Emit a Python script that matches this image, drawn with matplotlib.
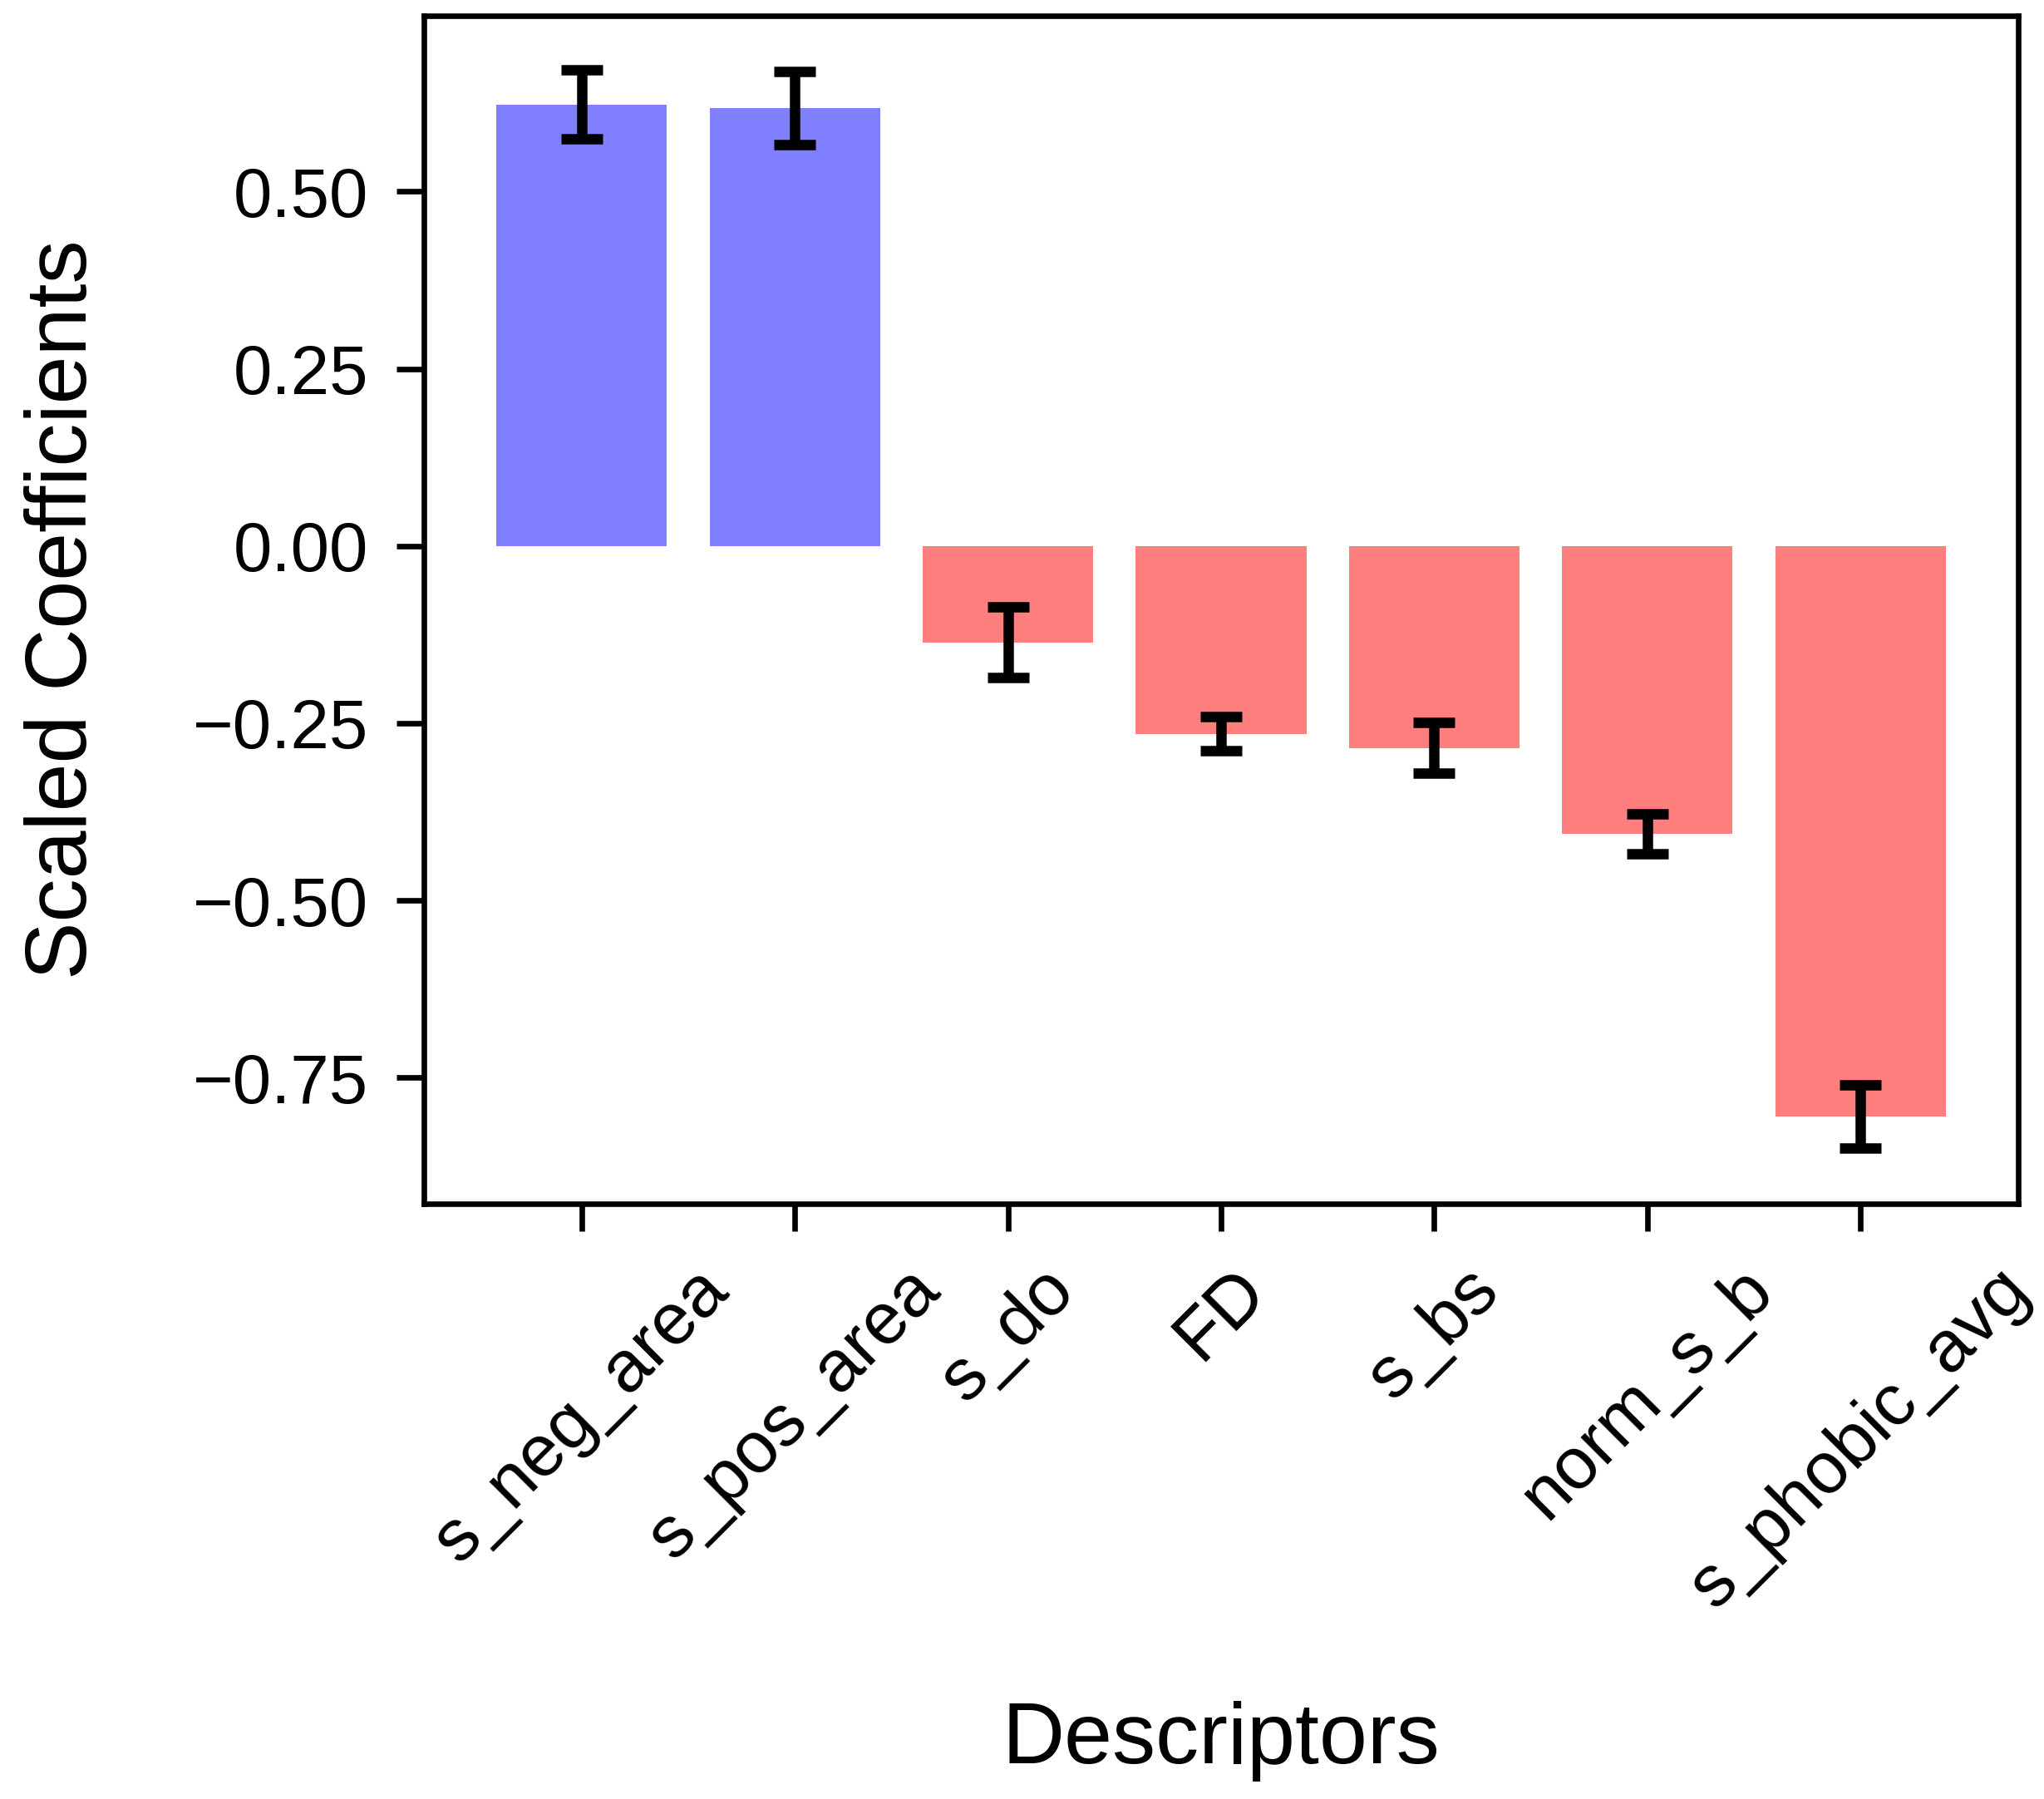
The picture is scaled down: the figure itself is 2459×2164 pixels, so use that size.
import numpy as np
import matplotlib as mpl
mpl.use('Agg')
import matplotlib.pyplot as plt

plt.rcParams['font.family'] = ['Liberation Sans', 'DejaVu Sans']

# descriptor coefficients (scaled) with their spread
descriptors = ['s_neg_area', 's_pos_area', 's_do', 'FD', 's_bs', 'norm_s_b', 's_phobic_avg']
coefs = [0.623, 0.618, -0.136, -0.265, -0.285, -0.406, -0.805]
errs  = [0.049, 0.052, 0.050, 0.024, 0.036, 0.028, 0.045]

def plot_coefs(names, values, errors):
	x = np.arange(len(names))
	colors = ['blue' if v > 0 else 'red' for v in values]

	fig = plt.figure(figsize=(2459/300, 2164/300), dpi=300)
	ax = fig.add_axes([0.2074, 0.3309, 0.78, 0.6603])

	ax.bar(x, values, width=0.8, color=colors, alpha=0.5,
	       yerr=errors, capsize=6, error_kw=dict(elinewidth=3, capthick=3, ecolor='black'))

	ax.set_yticks([-0.75, -0.5, -0.25, 0.0, 0.25, 0.5])
	ax.set_ylim(-0.928, 0.748)
	ax.set_xticks(x)
	ax.set_xticklabels(names, rotation=45)

	ax.tick_params('both', length=8, width=1.6, labelsize=20, pad=8)
	ax.tick_params('x', labelsize=21, pad=7)
	for sp in ax.spines.values():
		sp.set_linewidth(1.6)

	ax.set_xlabel('Descriptors', fontsize=25)
	ax.set_ylabel('Scaled Coefficients', fontsize=25)
	ax.xaxis.set_label_coords(0.5, -0.4185)
	ax.yaxis.set_label_coords(-0.2, 0.5)
	return fig

figure = plot_coefs(descriptors, coefs, errs)
figure.savefig('out.png', dpi=300)
